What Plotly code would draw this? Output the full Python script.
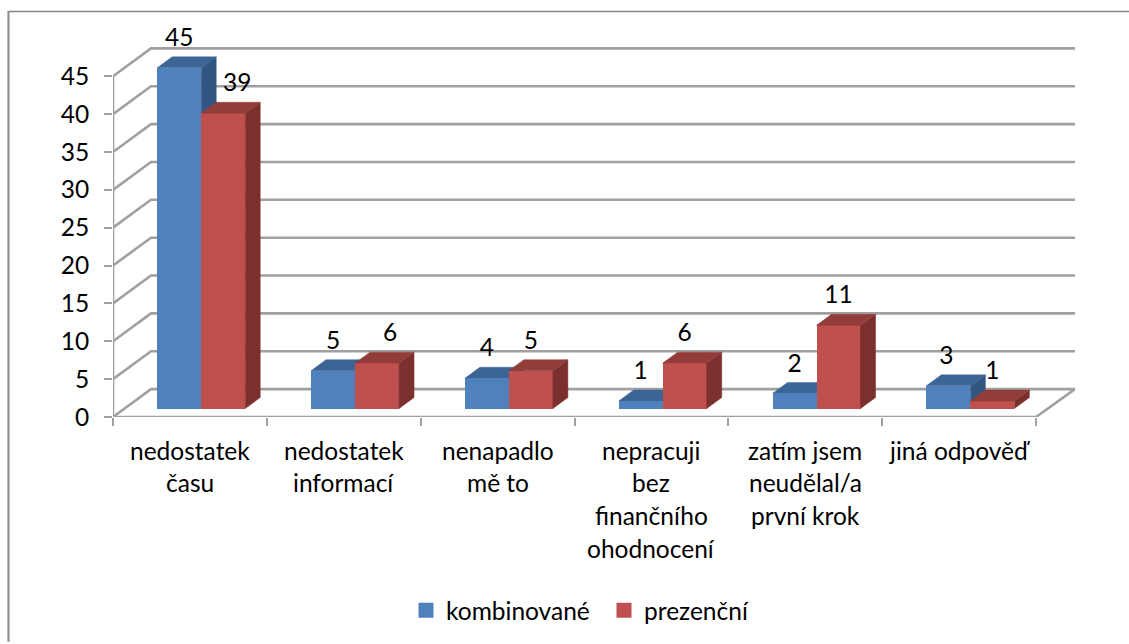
import plotly.graph_objects as go

# --- data -------------------------------------------------------------
categories = [
    ["nedostatek", "času"],
    ["nedostatek", "informací"],
    ["nenapadlo", "mě to"],
    ["nepracuji", "bez", "finančního", "ohodnocení"],
    ["zatím jsem", "neudělal/a", "první krok"],
    ["jiná odpověď"],
]
kombinovane = [45, 5, 4, 1, 2, 3]
prezencni = [39, 6, 5, 6, 11, 1]
y_ticks = [0, 5, 10, 15, 20, 25, 30, 35, 40, 45]
series_names = ["kombinované", "prezenční"]

# --- style / layout constants -----------------------------------------
W, H = 1129, 644
LEFT, RIGHT, TOP, BOTTOM = 113, 1075, 20, 418.5
PX_X = (1036 - 113) / len(categories)   # pixels per category
PX_Y = 7.6                              # pixels per value unit
FONT = "Lato"
FS = 24.5
GRID = "#A0A0A0"
BLUE, BLUE_TOP, BLUE_SIDE = "#4F81BD", "#3C6494", "#325682"
RED, RED_TOP, RED_SIDE = "#C0504D", "#923D3A", "#7B302E"

xu = lambda px: px / PX_X
yu = lambda px: px / PX_Y
WALL_DX, WALL_DY = xu(38), yu(28)
BAR_DX, BAR_DY = xu(15), yu(11)
BAR_W = xu(44)
BASE = yu(8.5)
SHIFT = xu(11.3)
x_range = [0, (RIGHT - LEFT) / PX_X]
y_range = [0, (BOTTOM - TOP) / PX_Y]
n = len(categories)
centers = [i + 0.5 + SHIFT for i in range(n)]

fig = go.Figure()

# --- walls / gridlines ------------------------------------------------
gx, gy = [], []
for v in y_ticks:
    gx += [0, WALL_DX, x_range[1], None]
    gy += [v, v + WALL_DY, v + WALL_DY, None]
fig.add_trace(go.Scatter(x=gx, y=gy, mode="lines", line=dict(color=GRID, width=2.6),
                         hoverinfo="skip", showlegend=False, cliponaxis=False))
# floor edge and vertical axis
fig.add_trace(go.Scatter(
    x=[0, 0, None, 0, n, x_range[1]],
    y=[0, y_ticks[-1], None, 0, 0, WALL_DY],
    mode="lines", line=dict(color=GRID, width=2.6),
    hoverinfo="skip", showlegend=False, cliponaxis=False))


def faces(values, left_edge):
    """Top and right-hand faces of the 3-D columns."""
    tx, ty, sx, sy = [], [], [], []
    for c, v in zip(centers, values):
        x0 = c + left_edge
        x1 = x0 + BAR_W
        top = BASE + v
        tx += [x0, x0 + BAR_DX, x1 + BAR_DX, x1, x0, None]
        ty += [top, top + BAR_DY, top + BAR_DY, top, top, None]
        sx += [x1, x1 + BAR_DX, x1 + BAR_DX, x1, x1, None]
        sy += [BASE, BASE + BAR_DY, top + BAR_DY, top, BASE, None]
    return tx, ty, sx, sy


def polygon(x, y, color, xa="x", ya="y"):
    return go.Scatter(x=x, y=y, mode="lines", fill="toself", fillcolor=color,
                      line=dict(color=color, width=0.5), hoverinfo="skip",
                      showlegend=False, xaxis=xa, yaxis=ya)


# blue depth faces sit behind everything red
btx, bty, bsx, bsy = faces(kombinovane, -BAR_W)
fig.add_trace(polygon(bsx, bsy, BLUE_SIDE))
fig.add_trace(polygon(btx, bty, BLUE_TOP))

# front faces and red depth faces on an overlaid axis pair
fig.add_trace(go.Bar(x=centers, y=kombinovane, base=BASE, width=BAR_W, offset=-BAR_W,
                     marker=dict(color=BLUE, line=dict(width=0)), name=series_names[0],
                     showlegend=False, xaxis="x2", yaxis="y2"))
fig.add_trace(go.Bar(x=centers, y=prezencni, base=BASE, width=BAR_W, offset=0,
                     marker=dict(color=RED, line=dict(width=0)), name=series_names[1],
                     showlegend=False, xaxis="x2", yaxis="y2"))
rtx, rty, rsx, rsy = faces(prezencni, 0)
fig.add_trace(polygon(rsx, rsy, RED_SIDE, "x2", "y2"))
fig.add_trace(polygon(rtx, rty, RED_TOP, "x2", "y2"))

# data labels
LABEL_RISE = yu(28)
blue_nudge_px = [0, 0, 0, 0, 0, -2]
red_nudge_px = [14, 13, 0, 0, 0, 0]
lx = [c - BAR_W / 2 + xu(p) for c, p in zip(centers, blue_nudge_px)] + \
     [c + BAR_W / 2 + xu(p) for c, p in zip(centers, red_nudge_px)]
lv = kombinovane + prezencni
fig.add_trace(go.Scatter(x=lx, y=[BASE + v + LABEL_RISE for v in lv],
                         text=[str(v) for v in lv], mode="text",
                         textposition="middle center",
                         textfont=dict(family=FONT, size=FS, color="black"),
                         hoverinfo="skip", showlegend=False, cliponaxis=False,
                         xaxis="x2", yaxis="y2"))

# legend entries
for name, color in zip(series_names, (BLUE, RED)):
    fig.add_trace(go.Scatter(x=[None], y=[None], mode="markers", name=name,
                             marker=dict(symbol="square", size=15, color=color),
                             xaxis="x2", yaxis="y2"))

px2fx = lambda px: (px - LEFT) / (RIGHT - LEFT)
px2fy = lambda px: (BOTTOM - px) / (BOTTOM - TOP)

# category labels, one annotation per text line
annotations = []
for i, lines in enumerate(categories):
    for j, line in enumerate(lines):
        annotations.append(dict(
            x=px2fx(LEFT + (i + 0.5) * PX_X), y=px2fy(452 + 32.7 * j),
            xref="paper", yref="paper", text=line,
            showarrow=False, xanchor="center", yanchor="middle",
            font=dict(family=FONT, size=FS, color="black")))

border = [
    dict(type="line", xref="paper", yref="paper", x0=px2fx(8), x1=px2fx(W),
         y0=px2fy(11.5), y1=px2fy(11.5), line=dict(color="#868686", width=1.5)),
    dict(type="line", xref="paper", yref="paper", x0=px2fx(8.5), x1=px2fx(8.5),
         y0=px2fy(11), y1=px2fy(H), line=dict(color="#909090", width=2.2)),
]

fig.update_layout(
    width=W, height=H, autosize=False,
    margin=dict(l=LEFT, r=W - RIGHT, t=TOP, b=H - BOTTOM, pad=0),
    paper_bgcolor="white", plot_bgcolor="white",
    font=dict(family=FONT, size=FS, color="black"),
    bargap=0, shapes=border, annotations=annotations, hovermode=False,
    xaxis=dict(range=x_range, tickmode="array", tickvals=list(range(n + 1)),
               showticklabels=False, ticks="outside", ticklen=8, tickwidth=2,
               tickcolor=GRID, showgrid=False, zeroline=False, showline=False),
    yaxis=dict(range=y_range, tickmode="array", tickvals=y_ticks, ticks="outside",
               ticklen=8, tickwidth=2, tickcolor=GRID, showgrid=False, zeroline=False,
               showline=False, ticklabelstandoff=10,
               tickfont=dict(family=FONT, size=FS, color="black")),
    xaxis2=dict(range=x_range, overlaying="x", visible=False),
    yaxis2=dict(range=y_range, overlaying="y", visible=False),
    legend=dict(orientation="h", x=px2fx(406), xanchor="left", y=px2fy(611),
                yanchor="middle", font=dict(family=FONT, size=FS, color="black"),
                entrywidth=153, entrywidthmode="pixels",
                bgcolor="rgba(0,0,0,0)", itemclick=False, itemdoubleclick=False),
)

fig.write_html("out.html", config=dict(displayModeBar=False),
               post_script="document.body.style.margin='0';")
